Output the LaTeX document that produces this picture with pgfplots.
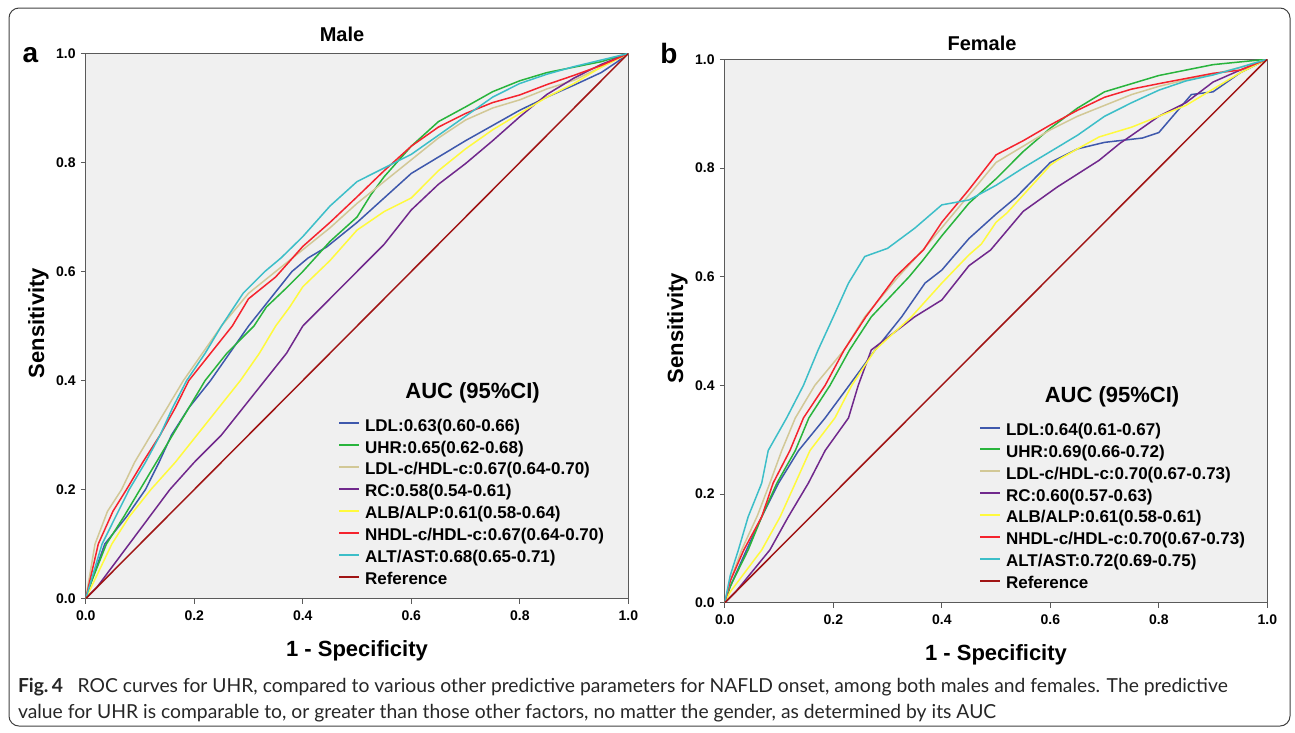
\documentclass[border=0pt]{standalone}
\usepackage{fontspec}
\setmainfont{Liberation Sans}
\newfontfamily\capfont{Lato}
\usepackage{pgfplots}
\pgfplotsset{compat=1.18}
\definecolor{bgc}{HTML}{F0F0F0}
\definecolor{axc}{HTML}{5A5A5A}
\definecolor{cLDL}{RGB}{62,88,172}
\definecolor{cUHR}{RGB}{40,180,60}
\definecolor{cLH}{RGB}{210,200,150}
\definecolor{cRC}{RGB}{112,40,140}
\definecolor{cAA}{RGB}{255,250,60}
\definecolor{cNH}{RGB}{245,35,45}
\definecolor{cAT}{RGB}{60,190,200}
\definecolor{cRef}{RGB}{160,20,20}
\pgfplotsset{rocax/.style={
  scale only axis, width=542.5pt, xmin=0, xmax=1, ymin=0, ymax=1,
  axis background/.style={fill=bgc},
  axis line style={draw=axc, line width=1pt},
  tick align=outside, tick pos=left, major tick length=5pt,
  every tick/.style={draw=axc, line width=0.8pt},
  xtick={0,0.2,0.4,0.6,0.8,1}, xticklabels={0.0,0.2,0.4,0.6,0.8,1.0},
  ytick={0,0.2,0.4,0.6,0.8,1}, yticklabels={0.0,0.2,0.4,0.6,0.8,1.0},
  ticklabel style={font=\fontsize{14}{14}\selectfont\bfseries, inner sep=0pt},
  xticklabel style={yshift=-7pt}, yticklabel style={xshift=-5pt},
  legend cell align=left,
  legend style={draw=none, fill=none, inner sep=0pt, outer sep=0pt, anchor=north west,
    font=\fontsize{17}{17}\selectfont\bfseries, row sep=5.9pt, column sep=5pt,
    nodes={inner sep=0pt, text height=12.3pt, text depth=3.7pt}},
  legend image code/.code={\draw[#1, line width=2pt, solid] (0pt,0.35em) -- (20pt,0.35em);},
  every axis plot/.append style={line width=1.5pt, mark=none},
}}
\begin{document}
\begin{tikzpicture}
\path[use as bounding box] (0pt,0pt) rectangle (1295pt,-732pt);
\draw[line width=1pt, draw=black!75, rounded corners=10pt] (9pt,-8pt) rectangle (1290pt,-726pt);
% ---------------- Male ----------------
\begin{axis}[rocax, height=545pt, at={(85.8pt,-598.5pt)}, anchor=south west,
  legend style={at={(rel axis cs:0.465,0.3297)}}]
\addplot[draw=cLDL] coordinates {(0,0)(0.01,0.03)(0.035,0.1)(0.075,0.15)(0.11,0.2)(0.135,0.25)(0.158,0.3)(0.19,0.35)(0.23,0.4)(0.265,0.45)(0.30,0.5)(0.34,0.55)(0.38,0.6)(0.41,0.625)(0.444,0.645)(0.5,0.69)(0.55,0.735)(0.6,0.78)(0.65,0.81)(0.7,0.84)(0.75,0.868)(0.8,0.896)(0.85,0.92)(0.9,0.942)(0.95,0.965)(0.98,0.985)(1,1)};
\addplot[draw=cUHR] coordinates {(0,0)(0.01,0.03)(0.038,0.1)(0.07,0.15)(0.10,0.2)(0.13,0.25)(0.16,0.3)(0.19,0.35)(0.22,0.4)(0.26,0.45)(0.31,0.5)(0.333,0.535)(0.37,0.57)(0.4,0.6)(0.45,0.655)(0.5,0.70)(0.525,0.74)(0.55,0.774)(0.6,0.83)(0.65,0.875)(0.7,0.902)(0.75,0.93)(0.8,0.95)(0.85,0.965)(0.9,0.975)(0.95,0.985)(1,1)};
\addplot[draw=cLH] coordinates {(0,0)(0.017,0.1)(0.04,0.16)(0.066,0.2)(0.09,0.25)(0.12,0.3)(0.15,0.35)(0.18,0.4)(0.215,0.45)(0.25,0.5)(0.30,0.56)(0.35,0.6)(0.4,0.64)(0.45,0.68)(0.5,0.725)(0.55,0.765)(0.6,0.805)(0.65,0.845)(0.7,0.878)(0.75,0.90)(0.8,0.915)(0.85,0.935)(0.9,0.951)(0.95,0.975)(1,1)};
\addplot[draw=cRC] coordinates {(0,0)(0.02,0.02)(0.08,0.1)(0.155,0.2)(0.2,0.25)(0.25,0.3)(0.29,0.35)(0.33,0.4)(0.37,0.45)(0.4,0.5)(0.45,0.55)(0.5,0.60)(0.55,0.65)(0.6,0.713)(0.65,0.76)(0.7,0.798)(0.75,0.84)(0.8,0.884)(0.85,0.925)(0.9,0.955)(0.95,0.98)(1,1)};
\addplot[draw=cAA] coordinates {(0,0)(0.048,0.1)(0.08,0.15)(0.12,0.2)(0.165,0.25)(0.205,0.3)(0.245,0.35)(0.285,0.4)(0.32,0.45)(0.35,0.5)(0.376,0.535)(0.4,0.572)(0.45,0.62)(0.5,0.676)(0.55,0.71)(0.6,0.735)(0.65,0.785)(0.7,0.825)(0.75,0.86)(0.8,0.89)(0.85,0.92)(0.9,0.945)(0.95,0.975)(1,1)};
\addplot[draw=cNH] coordinates {(0,0)(0.023,0.1)(0.05,0.16)(0.075,0.2)(0.105,0.25)(0.137,0.3)(0.165,0.35)(0.19,0.4)(0.23,0.45)(0.27,0.5)(0.30,0.55)(0.35,0.59)(0.4,0.646)(0.45,0.69)(0.5,0.737)(0.55,0.785)(0.6,0.83)(0.65,0.865)(0.7,0.89)(0.75,0.91)(0.8,0.924)(0.85,0.943)(0.9,0.96)(0.95,0.978)(1,1)};
\addplot[draw=cAT] coordinates {(0,0)(0.03,0.1)(0.055,0.15)(0.08,0.2)(0.11,0.25)(0.137,0.3)(0.16,0.35)(0.186,0.4)(0.22,0.45)(0.25,0.5)(0.29,0.56)(0.33,0.6)(0.36,0.625)(0.4,0.664)(0.45,0.72)(0.5,0.765)(0.55,0.79)(0.6,0.815)(0.65,0.85)(0.7,0.885)(0.75,0.92)(0.8,0.945)(0.85,0.962)(0.9,0.976)(0.95,0.988)(1,1)};
\addplot[draw=cRef] coordinates {(0,0)(1,1)};
\legend{LDL:0.63(0.60-0.66),UHR:0.65(0.62-0.68),LDL-c/HDL-c:0.67(0.64-0.70),RC:0.58(0.54-0.61),ALB/ALP:0.61(0.58-0.64),NHDL-c/HDL-c:0.67(0.64-0.70),ALT/AST:0.68(0.65-0.71),Reference}
\end{axis}
% ---------------- Female ----------------
\begin{axis}[rocax, height=543.5pt, at={(724.8pt,-602.7pt)}, anchor=south west,
  legend style={at={(rel axis cs:0.4686,0.3306)}}]
\addplot[draw=cLDL] coordinates {(0,0)(0.01,0.03)(0.04,0.097)(0.068,0.158)(0.099,0.22)(0.136,0.28)(0.185,0.34)(0.222,0.39)(0.277,0.465)(0.326,0.526)(0.369,0.588)(0.4,0.612)(0.424,0.64)(0.45,0.67)(0.5,0.715)(0.537,0.746)(0.6,0.81)(0.65,0.835)(0.7,0.847)(0.77,0.855)(0.8,0.865)(0.83,0.9)(0.86,0.935)(0.9,0.94)(0.95,0.975)(1,1)};
\addplot[draw=cUHR] coordinates {(0,0)(0.01,0.03)(0.043,0.097)(0.068,0.158)(0.096,0.22)(0.13,0.28)(0.155,0.34)(0.194,0.4)(0.23,0.465)(0.27,0.526)(0.34,0.6)(0.365,0.63)(0.4,0.675)(0.45,0.735)(0.5,0.78)(0.55,0.83)(0.6,0.873)(0.65,0.91)(0.7,0.94)(0.75,0.955)(0.8,0.97)(0.9,0.99)(0.95,0.995)(1,1)};
\addplot[draw=cLH] coordinates {(0,0)(0.01,0.04)(0.031,0.097)(0.06,0.16)(0.083,0.22)(0.105,0.28)(0.13,0.34)(0.166,0.4)(0.22,0.465)(0.258,0.526)(0.32,0.6)(0.366,0.65)(0.4,0.69)(0.45,0.75)(0.5,0.81)(0.55,0.84)(0.6,0.87)(0.65,0.895)(0.7,0.915)(0.75,0.935)(0.8,0.95)(0.85,0.962)(0.9,0.972)(0.95,0.985)(1,1)};
\addplot[draw=cRC] coordinates {(0,0)(0.02,0.02)(0.083,0.097)(0.117,0.158)(0.154,0.22)(0.185,0.28)(0.228,0.34)(0.246,0.4)(0.27,0.465)(0.35,0.526)(0.40,0.557)(0.45,0.62)(0.49,0.649)(0.55,0.72)(0.613,0.765)(0.69,0.814)(0.728,0.845)(0.75,0.86)(0.8,0.895)(0.85,0.92)(0.9,0.958)(0.95,0.98)(1,1)};
\addplot[draw=cAA] coordinates {(0,0)(0.01,0.02)(0.068,0.097)(0.102,0.158)(0.13,0.22)(0.157,0.28)(0.203,0.34)(0.234,0.4)(0.277,0.465)(0.344,0.526)(0.4,0.588)(0.45,0.64)(0.473,0.66)(0.5,0.70)(0.52,0.717)(0.55,0.75)(0.6,0.805)(0.613,0.814)(0.65,0.835)(0.69,0.857)(0.75,0.875)(0.8,0.895)(0.85,0.915)(0.9,0.945)(0.95,0.975)(1,1)};
\addplot[draw=cNH] coordinates {(0,0)(0.01,0.04)(0.035,0.097)(0.068,0.158)(0.089,0.22)(0.12,0.28)(0.145,0.34)(0.185,0.4)(0.22,0.465)(0.26,0.526)(0.315,0.6)(0.366,0.649)(0.4,0.70)(0.45,0.76)(0.5,0.824)(0.55,0.85)(0.6,0.879)(0.65,0.906)(0.7,0.93)(0.75,0.945)(0.8,0.955)(0.9,0.974)(0.95,0.98)(1,1)};
\addplot[draw=cAT] coordinates {(0,0)(0.01,0.05)(0.025,0.097)(0.043,0.158)(0.068,0.22)(0.08,0.28)(0.114,0.34)(0.145,0.4)(0.172,0.465)(0.2,0.526)(0.228,0.588)(0.258,0.637)(0.3,0.652)(0.35,0.689)(0.4,0.732)(0.45,0.741)(0.5,0.768)(0.55,0.80)(0.6,0.83)(0.65,0.86)(0.7,0.895)(0.75,0.92)(0.8,0.943)(0.85,0.96)(0.9,0.971)(0.95,0.985)(1,1)};
\addplot[draw=cRef] coordinates {(0,0)(1,1)};
\legend{LDL:0.64(0.61-0.67),UHR:0.69(0.66-0.72),LDL-c/HDL-c:0.70(0.67-0.73),RC:0.60(0.57-0.63),ALB/ALP:0.61(0.58-0.61),NHDL-c/HDL-c:0.70(0.67-0.73),ALT/AST:0.72(0.69-0.75),Reference}
\end{axis}
% ---------------- texts ----------------
\begin{scope}[every node/.style={inner sep=0pt, outer sep=0pt}]
\node[anchor=base, font=\fontsize{20}{20}\selectfont\bfseries] at (342pt,-41.2pt) {Male};
\node[anchor=base, font=\fontsize{20}{20}\selectfont\bfseries] at (982pt,-50.2pt) {Female};
\node[anchor=base, font=\fontsize{28}{28}\selectfont\bfseries] at (30.5pt,-62.8pt) {a};
\node[anchor=base, font=\fontsize{28}{28}\selectfont\bfseries] at (669pt,-63pt) {b};
\node[anchor=base, font=\fontsize{22}{22}\selectfont\bfseries] at (357pt,-656.7pt) {1 - Specificity};
\node[anchor=base, font=\fontsize{22}{22}\selectfont\bfseries] at (996pt,-660.7pt) {1 - Specificity};
\node[anchor=base, rotate=90, font=\fontsize{22}{22}\selectfont\bfseries] at (44pt,-323pt) {Sensitivity};
\node[anchor=base, rotate=90, font=\fontsize{22}{22}\selectfont\bfseries] at (683pt,-328pt) {Sensitivity};
\node[anchor=base, font=\fontsize{22}{22}\selectfont\bfseries] at (472.6pt,-398.6pt) {AUC (95\%CI)};
\node[anchor=base, font=\fontsize{22}{22}\selectfont\bfseries] at (1112pt,-402.9pt) {AUC (95\%CI)};
\node[anchor=base west, font=\capfont\fontsize{19.3}{19.3}\selectfont, text=black!85] at (18pt,-692pt) {{\bfseries Fig.\,4}\hspace{0.5em} ROC curves for UHR, compared to various other predictive parameters for NAFLD onset, among both males and females. The predictive};
\node[anchor=base west, font=\capfont\fontsize{19.3}{19.3}\selectfont, text=black!85] at (18pt,-718pt) {value for UHR is comparable to, or greater than those other factors, no matter the gender, as determined by its AUC};
\end{scope}
\end{tikzpicture}
\end{document}
